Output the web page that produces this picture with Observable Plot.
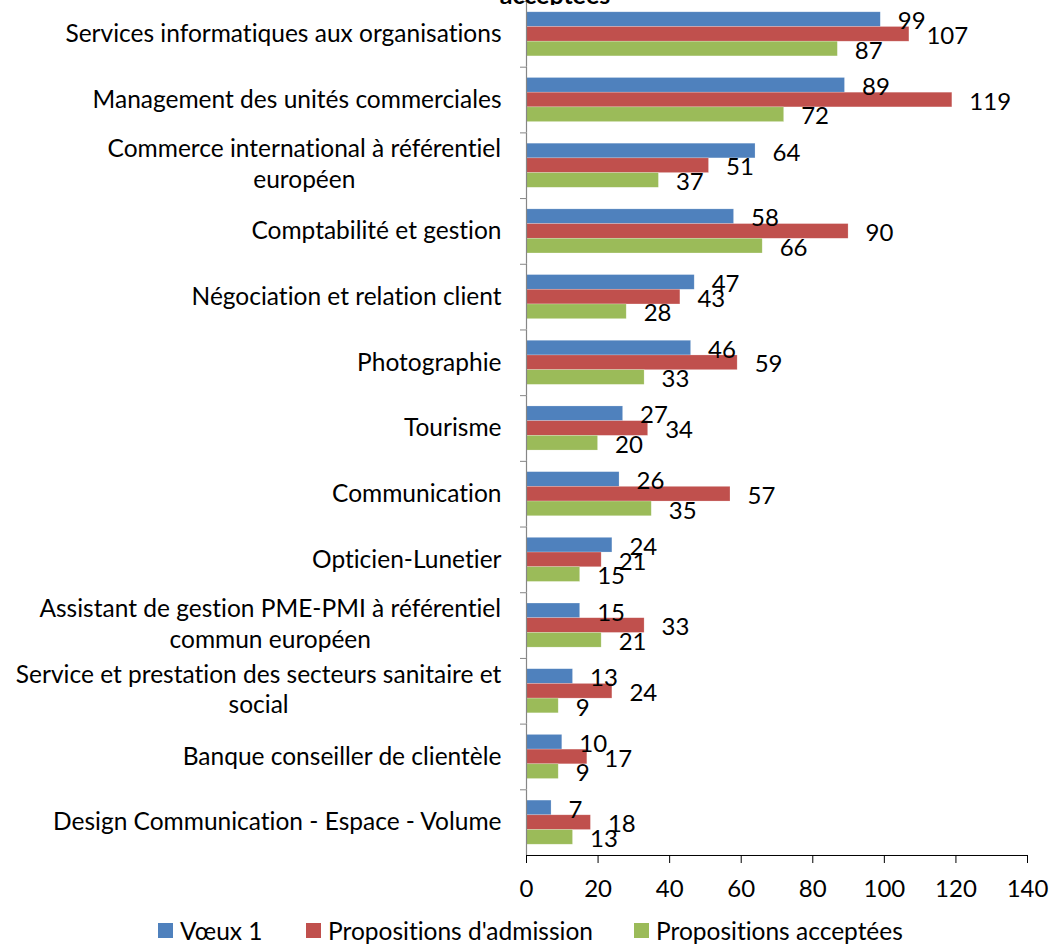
<!DOCTYPE html>
<html>
<head>
<meta charset="utf-8">
<script src="https://cdn.jsdelivr.net/npm/d3@7"></script>
<script src="https://cdn.jsdelivr.net/npm/@observablehq/plot@0.6"></script>
<style>
  html, body { margin: 0; padding: 0; background: #fff; }
  body { width: 1052px; height: 945px; overflow: hidden; font-family: Lato, "Liberation Sans", sans-serif; font-variant-ligatures: none; }
  #wrap { position: relative; width: 1052px; height: 945px; overflow: hidden; }
  #titleClip { position: absolute; top: 0; left: 0; width: 1052px; height: 4.5px; overflow: hidden; z-index: 2; }
  #title { position: absolute; bottom: -3.9px; left: 205px; width: 700px; text-align: center; font-weight: bold; font-size: 25px; line-height: 28px; color: #000; }
  #chart { position: absolute; top: 0; left: 0; }
  #legend { position: absolute; top: 916px; left: 0; width: 1052px; height: 28px; font-size: 24.5px; color: #000; }
  .item { position: absolute; top: 0; height: 28px; display: flex; align-items: center; white-space: nowrap; }
  .sw { width: 15px; height: 15px; margin-right: 7px; }
  svg text { font-variant-ligatures: none; }
</style>
</head>
<body>
<div id="wrap">
  <div id="chart"></div>
  <div id="titleClip"><div id="title">Vœux 1, propositions d'admission et propositions<br>acceptées</div></div>
  <div id="legend"></div>
</div>
<script>
const categories = [
  "Services informatiques aux organisations",
  "Management des unités commerciales",
  "Commerce international à référentiel européen",
  "Comptabilité et gestion",
  "Négociation et relation client",
  "Photographie",
  "Tourisme",
  "Communication",
  "Opticien-Lunetier",
  "Assistant de gestion PME-PMI à référentiel commun européen",
  "Service et prestation des secteurs sanitaire et social",
  "Banque conseiller de clientèle",
  "Design Communication - Espace - Volume"
];
const categoryLabels = [
  ["Services informatiques aux organisations"],
  ["Management des unités commerciales"],
  ["Commerce international à référentiel", "européen"],
  ["Comptabilité et gestion"],
  ["Négociation et relation client"],
  ["Photographie"],
  ["Tourisme"],
  ["Communication"],
  ["Opticien-Lunetier"],
  ["Assistant de gestion PME-PMI à référentiel", "commun européen"],
  ["Service et prestation des secteurs sanitaire et", "social"],
  ["Banque conseiller de clientèle"],
  ["Design Communication - Espace - Volume"]
];
const seriesNames = ["Vœux 1", "Propositions d'admission", "Propositions acceptées"];
const seriesColors = ["#4F81BD", "#C0504D", "#9BBB59"];
const voeux1 =      [99, 89, 64, 58, 47, 46, 27, 26, 24, 15, 13, 10, 7];
const admissions =  [107, 119, 51, 90, 43, 59, 34, 57, 21, 33, 24, 17, 18];
const acceptees =   [87, 72, 37, 66, 28, 33, 20, 35, 15, 21, 9, 9, 13];
const xTicks = [0, 20, 40, 60, 80, 100, 120, 140];

const seriesValues = [voeux1, admissions, acceptees];
const rows = [];
categories.forEach((c, i) => {
  seriesNames.forEach((s, j) => rows.push({category: c, series: s, value: seriesValues[j][i]}));
});

const W = 1052, H = 905;
const mTop = 1, mBottom = 50, mLeft = 526, mRight = 25;
const bandH = (H - mTop - mBottom) / categories.length;
const labelSize = 24.5;
const valueSize = 24;
const fontFamily = "Lato, 'Liberation Sans', sans-serif";
const axisGray = "#868686";

const ctx = document.createElement("canvas").getContext("2d");
ctx.font = `${labelSize}px Lato`;

const labelMarks = [];
const single = categories.filter((c, i) => categoryLabels[i].length === 1);
labelMarks.push(Plot.text(single, {
  fy: d => d, frameAnchor: "left", textAnchor: "end", lineAnchor: "middle", dx: -25,
  text: d => d, fontSize: labelSize, fill: "#000"
}));
categories.forEach((c, i) => {
  const lines = categoryLabels[i];
  if (lines.length > 1) {
    const w = ctx.measureText(lines[0]).width;
    labelMarks.push(Plot.text([c], {
      fy: d => d, frameAnchor: "left", textAnchor: "middle", lineAnchor: "middle", dx: -25 - w / 2, dy: -3,
      text: () => lines.join("\n"), lineHeight: 1.25, fontSize: labelSize, fill: "#000"
    }));
  }
});

const chart = Plot.plot({
  width: W, height: H,
  marginTop: mTop, marginBottom: mBottom, marginLeft: mLeft, marginRight: mRight,
  style: {fontFamily, fontSize: valueSize + "px", color: "#000", background: "transparent"},
  fy: {domain: categories, padding: 0, round: false},
  y: {domain: seriesNames, paddingInner: 0, paddingOuter: 0.735, round: false, axis: null},
  x: {domain: [0, 140], ticks: xTicks, tickSize: 8, tickPadding: 16, line: true, label: null},
  color: {domain: seriesNames, range: seriesColors},
  marks: [
    Plot.barX(rows, {x: "value", y: "series", fy: "category", fill: "series", stroke: "#fff", strokeOpacity: 0.35, strokeWidth: 0.6}),
    Plot.text(rows, {x: "value", y: "series", fy: "category", text: d => String(d.value),
      textAnchor: "start", dx: 17, dy: 2, fontSize: valueSize, fill: "#000"}),
    Plot.ruleX([0], {stroke: axisGray, strokeWidth: 1.2}),
    Plot.axisFy({anchor: "left", tickSize: 6, tickFormat: () => "", dy: -bandH / 2, stroke: axisGray, label: null}),
    ...labelMarks
  ]
});
chart.querySelectorAll('[aria-label="x-axis tick"], [aria-label="x-axis line"]').forEach(g => g.setAttribute("stroke", axisGray));
document.getElementById("chart").appendChild(chart);

const legend = document.getElementById("legend");
const legendX = [158, 306, 634];
seriesNames.forEach((s, i) => {
  const it = document.createElement("div");
  it.className = "item";
  it.style.left = legendX[i] + "px";
  it.innerHTML = `<span class="sw" style="background:${seriesColors[i]}"></span><span>${s}</span>`;
  legend.appendChild(it);
});
</script>
</body>
</html>
